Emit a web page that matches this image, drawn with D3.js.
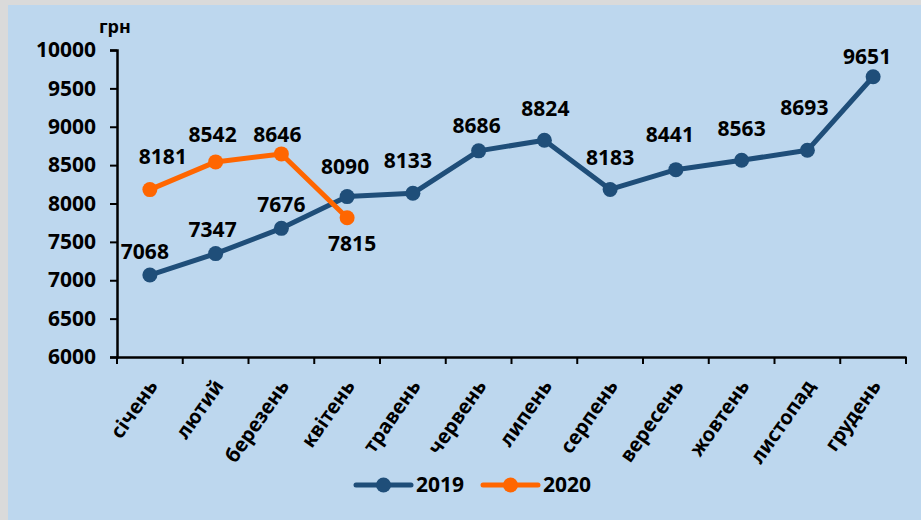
<!DOCTYPE html>
<html>
<head>
<meta charset="utf-8">
<script src="https://cdn.jsdelivr.net/npm/d3@7"></script>
<style>
  html, body { margin: 0; padding: 0; background: #dadada; }
  svg { display: block; }
  text { font-family: "Noto Sans", "Liberation Sans", Arial, sans-serif; font-weight: bold; fill: #000; }
</style>
</head>
<body>
<div id="chart"></div>
<script>
// months (Ukrainian)
var months = ['січень', 'лютий', 'березень', 'квітень', 'травень', 'червень',
              'липень', 'серпень', 'вересень', 'жовтень', 'листопад', 'грудень'];
var values2019 = [7068, 7347, 7676, 8090, 8133, 8686, 8824, 8183, 8441, 8563, 8693, 9651];
var values2020 = [8181, 8542, 8646, 7815];
var yTicks = [6000, 6500, 7000, 7500, 8000, 8500, 9000, 9500, 10000];
var seriesNames = ['2019', '2020'];
var seriesColors = ['#1f4e79', '#ff6600'];

// label nudges [dx, dy] relative to the point
var nudge2019 = [[-5,-23],[-3,-24],[0,-24],[-2,-30],[-5,-33],[-2,-25],[1,-32],[0,-32],[-6,-35],[0,-32],[-3,-43],[-6,-20]];
var nudge2020 = [[13,-33],[-3,-27],[-4,-19],[5,26]];

var W = 921, H = 520;
var svg = d3.select('#chart').append('svg')
    .attr('width', W)
    .attr('height', H);

svg.append('rect')
    .attr('x', 8).attr('y', 5)
    .attr('width', W - 8).attr('height', H - 5)
    .attr('fill', '#bdd7ee');

var plotL = 117, plotR = 906, plotT = 50, plotB = 357;

var x = d3.scaleBand().domain(months).range([plotL, plotR]);
var y = d3.scaleLinear().domain([6000, 10000]).range([plotB, plotT]);

// y axis
var yAxis = svg.append('g')
    .attr('transform', 'translate(' + plotL + ',0)')
    .call(d3.axisLeft(y).tickValues(yTicks).tickSize(7).tickPadding(14).tickFormat(d3.format('d')));
yAxis.select('.domain').attr('stroke', '#000').attr('stroke-width', 2.5);
yAxis.selectAll('.tick line').attr('stroke', '#000').attr('stroke-width', 2);
yAxis.selectAll('.tick text')
    .style('font-size', '21px')
    .style('font-family', '"Noto Sans", "Liberation Sans", Arial, sans-serif')
    .style('font-weight', 'bold');

// x axis
var xAxis = svg.append('g')
    .attr('transform', 'translate(0,' + plotB + ')')
    .call(d3.axisBottom(x).tickSize(0).tickFormat(''));
xAxis.select('.domain').attr('stroke', '#000').attr('stroke-width', 2.5);
xAxis.selectAll('.tick').remove();

// boundary ticks between categories
var bounds = months.map(function (m) { return x(m); }).concat([plotR]);
svg.append('g').selectAll('line')
    .data(bounds)
    .enter().append('line')
    .attr('x1', function (d) { return d; })
    .attr('x2', function (d) { return d; })
    .attr('y1', plotB)
    .attr('y2', plotB + 7)
    .attr('stroke', '#000')
    .attr('stroke-width', 2);

// month labels, rotated
svg.append('g').selectAll('text')
    .data(months)
    .enter().append('text')
    .attr('text-anchor', 'end')
    .attr('transform', function (d) {
        return 'translate(' + (x(d) + x.bandwidth() / 2 + 3) + ',' + (plotB + 25) + ') rotate(-55)';
    })
    .attr('dy', '0.35em')
    .style('font-size', '20px')
    .text(function (d) { return d; });

// y unit
svg.append('text')
    .attr('x', 99).attr('y', 33)
    .style('font-size', '18px')
    .text('грн');

var line = d3.line()
    .x(function (d, i) { return x(months[i]) + x.bandwidth() / 2; })
    .y(function (d) { return y(d); });

function drawSeries(vals, color) {
    var g = svg.append('g');
    g.append('path')
        .datum(vals)
        .attr('d', line)
        .attr('fill', 'none')
        .attr('stroke', color)
        .attr('stroke-width', 5)
        .attr('stroke-linejoin', 'round');
    g.selectAll('circle')
        .data(vals)
        .enter().append('circle')
        .attr('cx', function (d, i) { return x(months[i]) + x.bandwidth() / 2; })
        .attr('cy', function (d) { return y(d); })
        .attr('r', 7.5)
        .attr('fill', color);
}

drawSeries(values2019, seriesColors[0]);
drawSeries(values2020, seriesColors[1]);

function drawLabels(vals, nudges) {
    svg.append('g').selectAll('text')
        .data(vals)
        .enter().append('text')
        .attr('text-anchor', 'middle')
        .attr('x', function (d, i) { return x(months[i]) + x.bandwidth() / 2 + nudges[i][0]; })
        .attr('y', function (d, i) { return y(d) + nudges[i][1]; })
        .attr('dy', '0.35em')
        .style('font-size', '21px')
        .text(function (d) { return d; });
}
drawLabels(values2019, nudge2019);
drawLabels(values2020, nudge2020);

// legend
var legendX = [356, 483];
var legend = svg.append('g').selectAll('g')
    .data(seriesNames)
    .enter().append('g')
    .attr('transform', function (d, i) { return 'translate(' + legendX[i] + ',485)'; });
legend.append('line')
    .attr('x1', 0).attr('x2', 55)
    .attr('stroke', function (d, i) { return seriesColors[i]; })
    .attr('stroke-width', 5)
    .attr('stroke-linecap', 'round');
legend.append('circle')
    .attr('cx', 27.5).attr('r', 7.5)
    .attr('fill', function (d, i) { return seriesColors[i]; });
legend.append('text')
    .attr('x', 60).attr('dy', '0.35em')
    .style('font-size', '21px')
    .text(function (d) { return d; });
</script>
</body>
</html>
